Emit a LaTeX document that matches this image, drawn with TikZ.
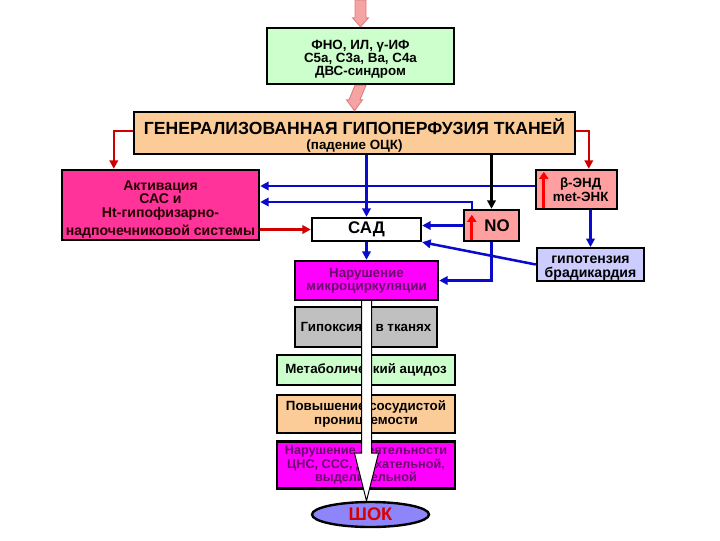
\documentclass[tikz,border=0pt]{standalone}
\usepackage{fontspec}
\setmainfont{Liberation Sans}
\usetikzlibrary{calc,arrows.meta,shapes.geometric}

\definecolor{boxgreen}{HTML}{CCFFCC}
\definecolor{boxpeach}{HTML}{FBCB98}
\definecolor{boxpink}{HTML}{FF3399}
\definecolor{boxmag}{HTML}{FF00FF}
\definecolor{boxrose}{HTML}{FF9F9F}
\definecolor{boxlav}{HTML}{CCCCFF}
\definecolor{boxgray}{HTML}{C0C0C0}
\definecolor{boxshock}{HTML}{8F85FA}
\definecolor{txtpurple}{HTML}{6A0A6A}
\definecolor{lnblue}{HTML}{0A0ACC}
\definecolor{lnred}{HTML}{D00000}
\definecolor{arrpink}{HTML}{F5A3A3}
\definecolor{arrpinkdk}{HTML}{E07A7A}

\begin{document}
\begin{tikzpicture}[x=0.025cm,y=-0.025cm,
  box/.style={draw=black,line width=1.7pt,inner sep=0pt,align=center,font=\bfseries},
  blueln/.style={draw=lnblue,line width=1.8pt,-{Triangle[width=6pt,length=6pt]}},
  redln/.style={draw=lnred,line width=1.8pt,-{Triangle[width=6pt,length=6pt]}},
  blackln/.style={draw=black,line width=1.8pt,-{Triangle[width=6pt,length=6pt]}},
  redup/.style={draw=red,line width=2.2pt,-{Triangle[width=6.5pt,length=5pt]}},
  pinkarr/.style={fill=arrpink,draw=arrpinkdk,line width=0.6pt}]
\useasboundingbox (0,0) rectangle (720,540);

% boxes
\node[box,fill=boxgreen,minimum width=4.675cm,minimum height=1.4cm,font=\bfseries\fontsize{9.5}{9.3}\selectfont] (green) at (360.5,56) {\rule{0pt}{11pt}ФНО, ИЛ, γ-ИФ\\С5а, С3а, Ва, С4а\\ДВС-синдром};
\node[box,fill=boxpeach,minimum width=11.025cm,minimum height=1.05cm] (main) at (354.5,133) {\rule{0pt}{15pt}\fontsize{12.5}{14}\selectfont ГЕНЕРАЛИЗОВАННАЯ ГИПОПЕРФУЗИЯ ТКАНЕЙ\\[-1pt]\fontsize{9.5}{10}\selectfont (падение ОЦК)};
\node[box,fill=boxpink,minimum width=4.925cm,minimum height=1.75cm,font=\bfseries\fontsize{10}{9.6}\selectfont,text=black!85!red] (act) at (160.5,205) {\rule{0pt}{13pt}Активация\\САС и\\Ht-гипофизарно-\\[3.5pt]надпочечниковой системы};
\node[box,fill=white,minimum width=2.725cm,minimum height=0.575cm,font=\bfseries\fontsize{12}{14}\selectfont] (sad) at (366.5,229.5) {САД};
\node[box,fill=boxrose,minimum width=1.375cm,minimum height=0.775cm,font=\bfseries\fontsize{12}{14}\selectfont] (no) at (491.5,225.5) {\hspace*{8pt}NO};
\node[box,fill=boxrose,minimum width=2.025cm,minimum height=0.975cm,font=\bfseries\fontsize{9.5}{10}\selectfont] (bend) at (576.5,189.5) {\hspace*{6pt}β-ЭНД\\\hspace*{6pt}met-ЭНК};
\node[box,fill=boxlav,minimum width=2.675cm,minimum height=0.775cm,font=\bfseries\fontsize{10}{10}\selectfont] (hypo) at (590.5,264.5) {\rule{0pt}{11pt}гипотензия\\брадикардия};
\node[box,fill=boxmag,minimum width=3.575cm,minimum height=0.975cm,font=\bfseries\fontsize{9.5}{9}\selectfont,text=txtpurple] (micro) at (366.5,280.5) {Нарушение\\микроциркуляции};
\node[box,fill=boxgray,minimum width=3.55cm,minimum height=1cm,font=\bfseries\fontsize{9.5}{12}\selectfont] (hypox) at (366,327) {Гипоксия\quad в тканях};
\node[box,fill=boxgreen,minimum width=4.45cm,minimum height=0.75cm,font=\bfseries\fontsize{9.5}{12}\selectfont] (acid) at (366,370) {Метаболический ацидоз};
\node[box,fill=boxpeach,minimum width=4.45cm,minimum height=0.95cm,font=\bfseries\fontsize{9.5}{9.5}\selectfont] (perm) at (366,414) {Повышение сосудистой\\проницаемости};
\node[box,fill=boxmag,minimum width=4.45cm,minimum height=1.175cm,font=\bfseries\fontsize{9}{9.5}\selectfont,text=txtpurple] (disf) at (366,465) {Нарушение деятельности\\ЦНС, ССС, дыхательной,\\выделительной};
\node[box,ellipse,fill=boxshock,minimum width=2.925cm,minimum height=0.625cm,font=\bfseries\fontsize{13}{15}\selectfont,text=red!85!black] (shock) at (370.5,514.5) {ШОК};

% red arrows inside the boxes
\draw[redup] ($(no.south west)+(9,-2)$) -- ($(no.north west)+(9,6)$);
\draw[redup] ($(bend.south west)+(9,-2)$) -- ($(bend.north west)+(9,3)$);

% pink arrows on top
\coordinate (src) at (green.north |- 0,0);
\filldraw[pinkarr] ($(src)+(-5.5,0)$) -- ($(green.north)+(-5.5,-9)$) -- ($(green.north)+(-8,-9)$) -- (green.north) -- ($(green.north)+(8,-9)$) -- ($(green.north)+(5.5,-9)$) -- ($(src)+(5.5,0)$) -- cycle;
\filldraw[pinkarr] ($(green.south)+(-5.5,0)$) -- ($(main.north)+(-5.5,-11)$) -- ($(main.north)+(-8,-11)$) -- (main.north) -- ($(main.north)+(8,-11)$) -- ($(main.north)+(5.5,-11)$) -- ($(green.south)+(5.5,0)$) -- cycle;

% connectors
\draw[redln] ($(main.west)+(0,-2)$) -| ($(act.north west)+(53,0)$);
\draw[redln] ($(main.east)+(0,-2)$) -| ($(bend.north west)+(54,0)$);
\coordinate (b1) at ($(bend.west)+(0,-3.5)$);
\draw[blueln] (b1) -- (b1 -| act.east);
\draw[blueln] ($(no.north west)+(9,0)$) |- ($(act.east)+(0,-3)$);
\draw[redln] (act.east |- sad.west) -- (sad.west);
\draw[blueln] (sad.north |- main.south) -- (sad.north);
\draw[blackln] (no.north |- main.south) -- (no.north);
\draw[blueln] (no.west) -- (no.west -| sad.east);
\draw[blueln] (hypo.north |- bend.south) -- (hypo.north);
\draw[blueln] (hypo.west) -- (sad.south east);
\draw[blueln] (sad.south) -- (micro.north);
\draw[blueln] (no.south) |- (micro.east);

% big white arrow down to the shock
\coordinate (tip) at (micro.south |- shock.north);
\filldraw[fill=white,draw=black,line width=0.7pt] ($(micro.south)+(-5,0)$) -- ($(micro.south)+(-5,152)$) -- ($(micro.south)+(-12,152)$) -- (tip) -- ($(micro.south)+(12,152)$) -- ($(micro.south)+(5,152)$) -- ($(micro.south)+(5,0)$);
\end{tikzpicture}
\end{document}
